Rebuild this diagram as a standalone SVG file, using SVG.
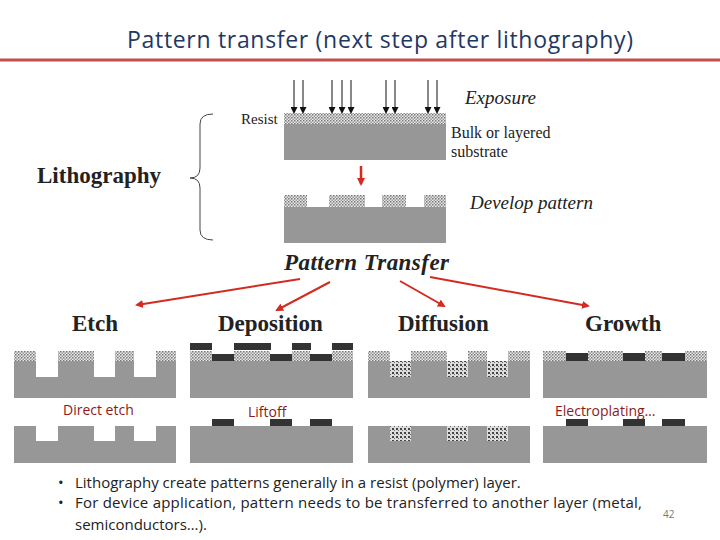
<svg xmlns="http://www.w3.org/2000/svg" width="720" height="540" viewBox="0 0 720 540">
<style>
.sub{fill:#979797}
.res{fill:url(#chk)}
.dk{fill:#333}
.dif{fill:url(#dots)}
.ser{font-family:"Liberation Serif",serif;fill:#222}
.hd{font-family:"Liberation Serif",serif;font-weight:bold;font-size:23px;fill:#222}
.lab{font-family:"Open Sans","Liberation Sans",sans-serif;font-size:14px;fill:#8b1a1a}
.bt{font-family:"Open Sans","Liberation Sans",sans-serif;font-size:15px;fill:#222}
.ra{stroke:#d42a20;stroke-width:2;fill:none;marker-end:url(#rh)}
.ka{stroke:#111;stroke-width:1;marker-end:url(#kh)}
</style>
<defs>
<pattern id="chk" width="3" height="3" patternUnits="userSpaceOnUse"><rect width="3" height="3" fill="#e8e8e8"/><rect width="1.5" height="1.5" fill="#777"/><rect x="1.5" y="1.5" width="1.5" height="1.5" fill="#999"/></pattern>
<pattern id="dots" width="4" height="4" patternUnits="userSpaceOnUse"><rect width="4" height="4" fill="#ddd"/><rect width="2" height="2" fill="#444"/><rect x="2" y="2" width="1" height="1" fill="#666"/></pattern>
<marker id="rh" markerWidth="8" markerHeight="8" refX="6" refY="4" orient="auto" markerUnits="userSpaceOnUse"><path d="M0,0 L8,4 L0,8 Z" fill="#d42a20"/></marker>
<marker id="kh" markerWidth="7" markerHeight="7" refX="5" refY="3.5" orient="auto" markerUnits="userSpaceOnUse"><path d="M0,0 L7,3.5 L0,7 Z" fill="#111"/></marker>
</defs>
<text x="380" y="48" text-anchor="middle" font-family="Open Sans, Liberation Sans, sans-serif" font-size="23" fill="#1f3864" textLength="506">Pattern transfer (next step after lithography)</text>
<line x1="0" y1="60" x2="720" y2="60" stroke="#c0504d" stroke-width="3"/>

<g id="lithography">
<text class="ser" x="37" y="183" font-size="23" font-weight="bold">Lithography</text>
<path d="M213,114 Q200,114 200,124 L200,168 Q200,178 190,178 Q200,178 200,188 L200,230 Q200,240 213,240" fill="none" stroke="#444" stroke-width="1"/>
<text class="ser" x="241" y="124" font-size="15">Resist</text>
<rect class="res" x="284" y="113" width="162" height="11"/>
<rect class="sub" x="284" y="124" width="162" height="36"/>
<g>
<line class="ka" x1="294" y1="80" x2="294" y2="112"/><line class="ka" x1="303" y1="80" x2="303" y2="112"/>
<line class="ka" x1="332" y1="80" x2="332" y2="112"/><line class="ka" x1="342" y1="80" x2="342" y2="112"/>
<line class="ka" x1="351" y1="80" x2="351" y2="112"/><line class="ka" x1="386" y1="80" x2="386" y2="112"/>
<line class="ka" x1="395" y1="80" x2="395" y2="112"/><line class="ka" x1="428" y1="80" x2="428" y2="112"/>
<line class="ka" x1="437" y1="80" x2="437" y2="112"/>
</g>
<text class="ser" x="465" y="104" font-size="19" font-style="italic">Exposure</text>
<text class="ser" x="451" y="138" font-size="16">Bulk or layered</text>
<text class="ser" x="451" y="157" font-size="16">substrate</text>
<line x1="361" y1="166" x2="361" y2="184" stroke="#d42a20" stroke-width="2.5" marker-end="url(#rh)"/>
<rect class="res" x="284" y="195" width="23" height="12"/><rect class="res" x="329" y="195" width="36" height="12"/>
<rect class="res" x="382" y="195" width="24" height="12"/><rect class="res" x="424" y="195" width="22" height="12"/>
<rect class="sub" x="284" y="207" width="162" height="36"/>
<text class="ser" x="470" y="209" font-size="19" font-style="italic">Develop pattern</text>
</g>

<text class="ser" x="284" y="270" font-size="23" font-weight="bold" font-style="italic" textLength="165">Pattern Transfer</text>

<g id="connectors">
<line class="ra" x1="300" y1="279" x2="137" y2="305"/>
<line class="ra" x1="330" y1="282" x2="277" y2="310"/>
<line class="ra" x1="400" y1="281" x2="444" y2="306"/>
<line class="ra" x1="430" y1="277" x2="588" y2="306"/>
</g>

<g id="etch">
<text class="hd" x="72" y="331">Etch</text>
<rect class="res" x="14" y="351" width="22" height="10"/><rect class="res" x="58" y="351" width="36" height="10"/>
<rect class="res" x="115" y="351" width="19" height="10"/><rect class="res" x="156" y="351" width="20" height="10"/>
<path class="sub" d="M14,361 H36 V377 H58 V361 H94 V377 H115 V361 H134 V377 H156 V361 H176 V398 H14 Z"/>
<text class="lab" x="63" y="415">Direct etch</text>
<path class="sub" d="M14,426 H36 V441 H58 V426 H94 V441 H115 V426 H134 V441 H156 V426 H176 V463 H14 Z"/>
</g>

<g id="deposition">
<text class="hd" x="218" y="331">Deposition</text>
<rect class="res" x="190" y="351" width="22" height="10"/><rect class="res" x="234" y="351" width="36" height="10"/>
<rect class="res" x="292" y="351" width="18" height="10"/><rect class="res" x="332" y="351" width="21" height="10"/>
<rect class="dk" x="190" y="343" width="22" height="7"/><rect class="dk" x="234" y="343" width="37" height="7"/>
<rect class="dk" x="292" y="343" width="19" height="7"/><rect class="dk" x="332" y="343" width="21" height="7"/>
<rect class="dk" x="212" y="354" width="22" height="7"/><rect class="dk" x="270" y="354" width="22" height="7"/><rect class="dk" x="310" y="354" width="22" height="7"/>
<rect class="sub" x="190" y="361" width="163" height="37"/>
<text class="lab" x="248" y="417">Liftoff</text>
<rect class="dk" x="212" y="419" width="22" height="7"/><rect class="dk" x="270" y="419" width="22" height="7"/><rect class="dk" x="310" y="419" width="22" height="7"/>
<rect class="sub" x="190" y="426" width="163" height="37"/>
</g>

<g id="diffusion">
<text class="hd" x="398" y="331">Diffusion</text>
<rect class="res" x="368" y="351" width="22" height="10"/><rect class="res" x="411" y="351" width="36" height="10"/>
<rect class="res" x="468" y="351" width="19" height="10"/><rect class="res" x="508" y="351" width="22" height="10"/>
<rect class="sub" x="368" y="361" width="162" height="37"/>
<rect class="dif" x="390" y="361" width="21" height="16"/><rect class="dif" x="447" y="361" width="21" height="16"/><rect class="dif" x="487" y="361" width="21" height="16"/>
<rect class="sub" x="368" y="426" width="162" height="37"/>
<rect class="dif" x="390" y="426" width="21" height="15"/><rect class="dif" x="447" y="426" width="21" height="15"/><rect class="dif" x="487" y="426" width="21" height="15"/>
</g>

<g id="growth">
<text class="hd" x="585" y="331">Growth</text>
<rect class="res" x="543" y="351" width="23" height="10"/><rect class="res" x="588" y="351" width="35" height="10"/>
<rect class="res" x="645" y="351" width="17" height="10"/><rect class="res" x="685" y="351" width="22" height="10"/>
<rect class="dk" x="566" y="353" width="22" height="8"/><rect class="dk" x="623" y="353" width="22" height="8"/><rect class="dk" x="662" y="353" width="23" height="8"/>
<rect class="sub" x="543" y="361" width="164" height="37"/>
<text class="lab" x="555" y="416">Electroplating…</text>
<rect class="dk" x="566" y="419" width="22" height="7"/><rect class="dk" x="623" y="419" width="22" height="7"/><rect class="dk" x="662" y="419" width="23" height="7"/>
<rect class="sub" x="543" y="426" width="164" height="37"/>
</g>

<g id="bullets">
<text class="bt" x="58" y="488">•</text><text class="bt" x="75" y="488">Lithography create patterns generally in a resist (polymer) layer.</text>
<text class="bt" x="58" y="508">•</text><text class="bt" x="75" y="508" textLength="567">For device application, pattern needs to be transferred to another layer (metal,</text>
<text class="bt" x="75" y="530">semiconductors…).</text>
<text x="663" y="518" font-family="Open Sans, Liberation Sans, sans-serif" font-size="10" fill="#777">42</text>
</g>
</svg>
